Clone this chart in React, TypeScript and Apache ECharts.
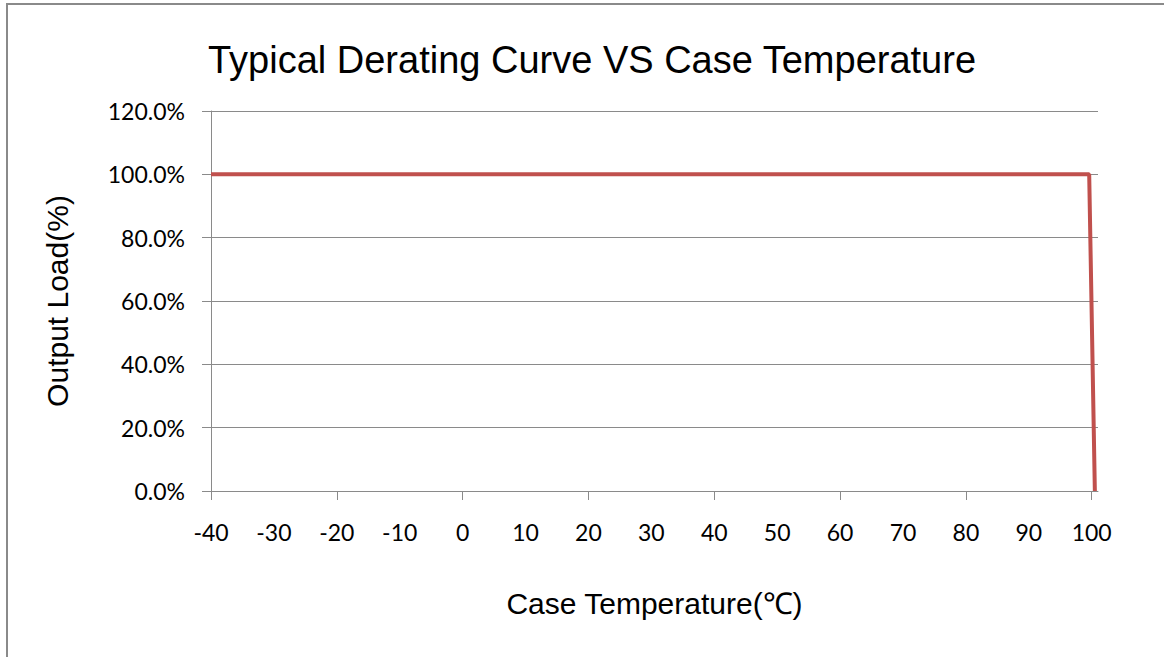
import React, { useEffect, useRef } from "react";
import * as echarts from "echarts";

const temperatures: number[] = [-40, 99.6, 100.5];
const loads: number[] = [100, 100, 0];
const xLabelValues: number[] = [-40, -30, -20, -10, 0, 10, 20, 30, 40, 50, 60, 70, 80, 90, 100];
const xTickValues: number[] = [-40, -20, 0, 20, 40, 60, 80, 100];
const titleText = "Typical Derating Curve VS Case Temperature";
const yName = "Output Load(%)";
const xName = "Case Temperature(℃)";

export default function App() {
  const ref = useRef<HTMLDivElement>(null);
  useEffect(() => {
    if (!ref.current) return;
    const chart = echarts.init(ref.current, null, { renderer: "svg" });
    const gray = "#8a8a8a";
    chart.setOption({
      animation: false,
      backgroundColor: "#ffffff",
      title: {
        text: titleText,
        left: 587,
        textAlign: "center",
        top: 36,
        textStyle: { fontFamily: "Liberation Sans", fontSize: 38, fontWeight: "normal", color: "#000" },
      },
      graphic: [
        {
          type: "rect",
          shape: { x: 7, y: 4, width: 1170, height: 700 },
          style: { fill: "none", stroke: "#8a8a8a", lineWidth: 2 },
          silent: true,
        },
      ],
      grid: { left: 211, right: 66, top: 111, bottom: 166, containLabel: false },
      xAxis: {
        type: "value",
        min: -40,
        max: 101,
        name: xName,
        nameLocation: "middle",
        nameGap: 97,
        nameTextStyle: { fontFamily: "Liberation Sans", fontSize: 30, color: "#000" },
        axisLine: { show: true, onZero: false, lineStyle: { color: gray, width: 1 } },
        axisTick: { show: true, customValues: xTickValues, length: 9, inside: false, lineStyle: { color: gray } },
        axisLabel: {
          customValues: xLabelValues,
          margin: 29,
          fontFamily: "Lato",
          fontSize: 23,
          color: "#000",
        },
        splitLine: { show: false },
      },
      yAxis: {
        type: "value",
        min: 0,
        max: 120,
        interval: 20,
        name: yName,
        nameLocation: "middle",
        nameRotate: 90,
        nameGap: 139,
        nameTextStyle: { fontFamily: "Liberation Sans", fontSize: 30, color: "#000" },
        axisLine: { show: true, onZero: false, lineStyle: { color: gray, width: 1 } },
        axisTick: { show: true, length: 9, inside: false, lineStyle: { color: gray } },
        axisLabel: {
          margin: 26,
          fontFamily: "Lato",
          fontSize: 23,
          color: "#000",
          formatter: (v: number) => v.toFixed(1) + "%",
        },
        splitLine: { show: true, lineStyle: { color: gray, width: 1 } },
      },
      series: [
        {
          type: "line",
          data: temperatures.map((t, i) => [t, loads[i]]),
          showSymbol: false,
          symbol: "none",
          lineStyle: { color: "#C0504D", width: 4 },
          itemStyle: { color: "#C0504D" },
        },
      ],
    });
    return () => chart.dispose();
  }, []);
  return (
    <div
      ref={ref}
      style={{ width: 1164, height: 657, position: "absolute", left: 0, top: 0 }}
    />
  );
}
